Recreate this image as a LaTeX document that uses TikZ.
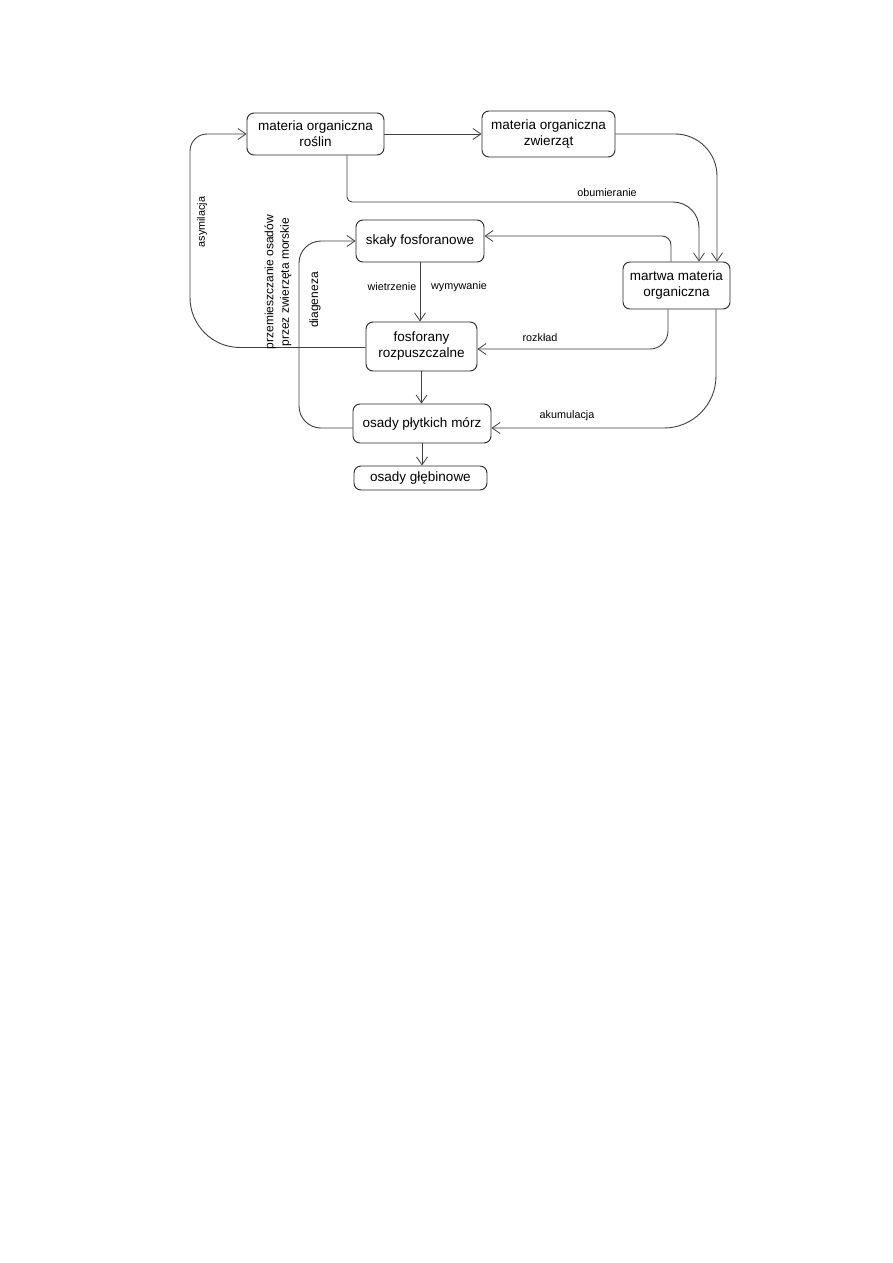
\documentclass[tikz,border=0pt]{standalone}
\usepackage{fontspec}
\setmainfont{Liberation Sans}
\usetikzlibrary{arrows.meta}
\begin{document}
\begin{tikzpicture}[x=1pt,y=-1pt,
  box/.style={draw=black!85, line width=0.9pt, rounded corners=7pt, inner sep=0pt,
    align=center, font=\fontsize{13.5}{16}\selectfont},
  arr/.style={draw=black!75, line width=0.9pt, -{Straight Barb[length=8pt,width=11pt,line width=0.8pt]}},
  lab/.style={font=\fontsize{10.8}{13}\selectfont, inner sep=0pt},
  rlab/.style={font=\fontsize{12}{15.5}\selectfont, inner sep=0pt, rotate=90, align=center}]
\useasboundingbox (0,0) rectangle (893,1263);
\fill[white] (0,0) rectangle (893,1263);

\node[box, minimum width=137pt, minimum height=42pt] (r1) at (315.5,134) {materia organiczna\\roślin};
\node[box, minimum width=133pt, minimum height=46pt] (r2) at (548.5,134) {materia organiczna\\zwierząt};
\node[box, minimum width=107pt, minimum height=47pt] (m) at (676.5,285.5) {martwa materia\\organiczna};
\node[box, minimum width=128pt, minimum height=42pt] (s) at (420,241) {skały fosforanowe};
\node[box, minimum width=111pt, minimum height=49pt] (f) at (421.5,346.5) {fosforany\\rozpuszczalne};
\node[box, minimum width=138pt, minimum height=39pt] (p) at (422,423.5) {osady płytkich mórz};
\node[box, minimum width=133pt, minimum height=24pt] (g) at (420.5,478) {osady głębinowe};

% coordinates on borders
\coordinate (r1b) at ([xshift=31.5pt]r1.south);
\coordinate (mt1) at ([xshift=-5.5pt]m.north);
\coordinate (mt2) at ([xshift=22.5pt]m.north);
\coordinate (mt3) at ([xshift=40.5pt]m.north);
\coordinate (mb1) at ([xshift=-8.5pt]m.south);
\coordinate (mb2) at ([xshift=39.5pt]m.south);
\coordinate (se) at ([yshift=5pt]s.east);
\coordinate (fe) at ([yshift=-2.5pt]f.east);
\coordinate (pe) at ([yshift=-4.5pt]p.east);
\coordinate (pw) at ([yshift=-4.5pt]p.west);
\coordinate (fw) at ([yshift=-1pt]f.west);
\coordinate (r1w) at (r1.west);
\coordinate (sw) at (s.west);

% connectors
\draw[arr] (r1.east) -- (r2.west);
\draw[arr, rounded corners=42pt] (r2.east) -| (mt3);
\draw[arr] (r1b) [rounded corners=5pt] -- (r1b |- 0,202) [rounded corners=26pt] -- (mt2 |- 0,202) [sharp corners] -- (mt2);
\draw[arr, rounded corners=9pt] (mt1) |- (se);
\draw[arr] (s.south) -- (s.south |- f.north);
\draw[arr, rounded corners=18pt] (mb1) |- (fe);
\draw[arr, rounded corners=52pt] (mb2) |- (pe);
\draw[arr] (f.south) -- (f.south |- p.north);
\draw[arr] (p.south) -- (p.south |- g.north);
\draw[arr, rounded corners=22pt] (pw) -- (299,0 |- pw) -- (299,0 |- sw) -- (sw);
\draw[arr] (fw) [rounded corners=50pt] -- (190,0 |- fw) [rounded corners=17pt] -- (190,0 |- r1w) [sharp corners] -- (r1w);

% labels
\node[lab] (l1) at (607,193) {obumieranie};
\node[lab] (l2) at (392,287) {wietrzenie};
\node[lab] (l3) at (459,287) {wymywanie};
\node[lab] (l4) at (540,338) {rozkład};
\node[lab] (l5) at (567,416) {akumulacja};
\node[lab, rotate=90] (l6) at (202,222) {asymilacja};
\node[rlab] (l7) at (278,282) {przemieszczanie osadów\\przez zwierzęta morskie};
\node[rlab] (l8) at (315,300) {diageneza};
\end{tikzpicture}
\end{document}
